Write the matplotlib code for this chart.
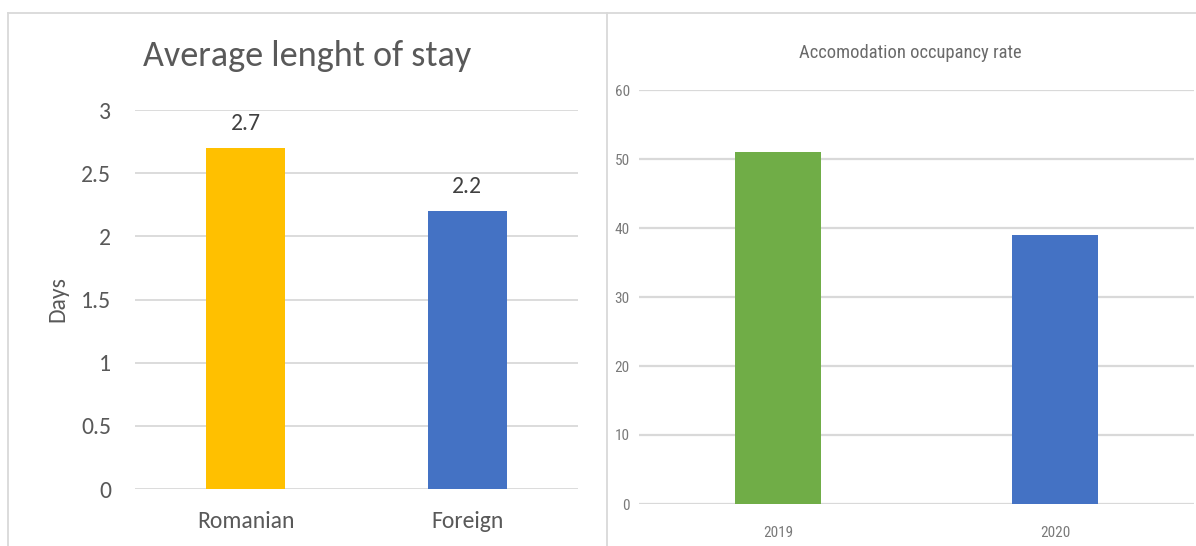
import matplotlib
matplotlib.use("Agg")
import matplotlib.pyplot as plt
import matplotlib.font_manager as fm
from matplotlib.lines import Line2D

# ---- data ----
stay_categories = ["Romanian", "Foreign"]
stay_values = [2.7, 2.2]
stay_labels = ["2.7", "2.2"]
stay_ticks = [0, 0.5, 1, 1.5, 2, 2.5, 3]
stay_ticklabels = ["0", "0.5", "1", "1.5", "2", "2.5", "3"]

occ_categories = ["2019", "2020"]
occ_values = [51, 39]
occ_ticks = [0, 10, 20, 30, 40, 50, 60]


def pick(cands, default="DejaVu Sans"):
    for c in cands:
        try:
            fm.findfont(fm.FontProperties(family=c), fallback_to_default=False)
            return c
        except Exception:
            pass
    return default


left_font = pick(["Carlito", "Lato", "Open Sans"])
right_font = pick(["Liberation Sans Narrow", "Roboto Condensed", "Open Sans Condensed",
                   "DejaVu Sans Condensed", "Roboto"])

W, H = 1196, 546
fig = plt.figure(figsize=(W / 100, H / 100), dpi=100)
fig.patch.set_facecolor("white")

# chart-area frames
frame_c = "#d9d9d9"
for xs, ys in [([8, 8], [13, 546]), ([8, 606.5], [13, 13]), ([606.5, 606.5], [13, 546]),
               ([606.5, 1196], [12.5, 12.5])]:
    fig.add_artist(Line2D([x / W for x in xs], [(H - y) / H for y in ys],
                          transform=fig.transFigure, color=frame_c, lw=1.3))

grid_c = "#d9d9d9"
lfs = 17

# ---- left chart ----
ax1 = fig.add_axes([135 / W, (H - 489) / H, 443 / W, 379 / H])
x1 = list(range(len(stay_categories)))
ax1.bar(x1, stay_values, width=0.357, color=["#FFC000", "#4472C4"], zorder=3)
ax1.set_xlim(-0.5, 1.5)
ax1.set_ylim(0, 3)
ax1.set_yticks(stay_ticks)
ax1.set_yticklabels(stay_ticklabels)
ax1.set_xticks(x1)
ax1.set_xticklabels(stay_categories)
ax1.grid(axis="y", color=grid_c, lw=1.3, zorder=0)
for s in ax1.spines.values():
    s.set_visible(False)
ax1.tick_params(axis="both", length=0, labelsize=lfs, colors="#595959")
ax1.tick_params(axis="y", pad=17)
ax1.tick_params(axis="x", pad=15.5)
for lab in ax1.get_xticklabels() + ax1.get_yticklabels():
    lab.set_fontfamily(left_font)
for xi, v, t in zip(x1, stay_values, stay_labels):
    ax1.annotate(t, (xi, v), xytext=(0, 17.5), textcoords="offset points",
                 ha="center", va="center", fontsize=lfs, color="#404040",
                 fontfamily=left_font)
ax1.set_ylabel("Days", fontsize=lfs, color="#595959", fontfamily=left_font)
ax1.yaxis.set_label_coords(-0.151, 0.5)
ax1.set_title("Average lenght of stay", fontsize=26, color="#595959",
              fontfamily=left_font, x=0.388, pad=31.5)

# ---- right chart ----
ax2 = fig.add_axes([639.5 / W, (H - 504) / H, 554 / W, 414 / H])
x2 = list(range(len(occ_categories)))
ax2.bar(x2, occ_values, width=0.31, color=["#70AD47", "#4472C4"], zorder=3)
ax2.set_xlim(-0.5, 1.5)
ax2.set_ylim(0, 60)
ax2.set_yticks(occ_ticks)
ax2.set_xticks(x2)
ax2.set_xticklabels(occ_categories)
ax2.grid(axis="y", color=grid_c, lw=1.6, zorder=0)
for s in ax2.spines.values():
    s.set_visible(False)
ax2.tick_params(axis="both", length=0, labelsize=11, colors="#7a7a7a")
ax2.tick_params(axis="y", pad=7)
ax2.tick_params(axis="x", pad=16)
for lab in ax2.get_xticklabels() + ax2.get_yticklabels():
    lab.set_fontfamily(right_font)
ax2.set_title("Accomodation occupancy rate", fontsize=13.3, color="#6a6a6a",
              fontfamily=right_font, x=0.488, pad=23)

fig.savefig("out.png", dpi=100, facecolor="white")
